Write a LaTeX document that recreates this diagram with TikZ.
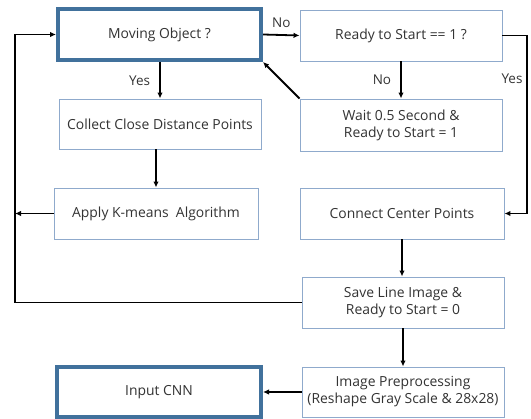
\documentclass[tikz,border=0pt]{standalone}
\usepackage{fontspec}
\setmainfont{Open Sans}
\usetikzlibrary{arrows.meta,calc}
\definecolor{boxblue}{HTML}{8FAACC}
\definecolor{darkblue}{HTML}{41719C}
\definecolor{txt}{HTML}{333333}
\tikzset{
  box/.style={draw=boxblue, line width=0.9pt, fill=white, minimum width=202pt, minimum height=51pt,
    text=txt, align=center, inner sep=2pt, font=\fontsize{13.9}{17}\selectfont},
  thickbox/.style={box, draw=darkblue, line width=4pt},
  conn/.style={line width=1.8pt, -{Latex[length=6pt,width=5.5pt]}},
  lbl/.style={text=txt, font=\fontsize{13.5}{15}\selectfont, inner sep=0pt}
}
\begin{document}
\begin{tikzpicture}[x=1pt,y=-1pt]
\useasboundingbox (0,0) rectangle (531,419);
\node[thickbox, minimum width=203pt] (mov) at (159.5,34.5) {Moving Object ?};
\node[box] (rdy) at (401,35.5) {Ready to Start == 1 ?};
\node[box, minimum height=52pt] (wait) at (401,125) {Wait 0.5 Second \&\\Ready to Start = 1};
\node[box, minimum height=50pt] (col) at (160,124) {Collect Close Distance Points};
\node[box, minimum width=204pt] (app) at (156,213.5) {Apply K-means\ \ Algorithm};
\node[box, minimum width=204pt] (con) at (402,213.5) {Connect Center Points};
\node[box] (save) at (403,302.5) {Save Line Image \&\\Ready to Start = 0};
\node[box, minimum height=50pt] (img) at (403,392) {Image Preprocessing\\(Reshape Gray Scale \& 28x28)};
\node[thickbox, minimum width=204pt, minimum height=50pt] (cnn) at (159,392) {Input CNN};
\coordinate (lb) at (15,302.5);
\coordinate (lt) at (15,34.5);
\coordinate (rt) at (527,35.5);
\draw[conn] (mov.east) -- (rdy.west) node[lbl, midway, above=6pt] (l1) {No};
\draw[conn] (rdy.south) -- (wait.north) node[lbl, midway, left=9pt] (l2) {No};
\draw[conn] (rdy.east) -- (rt) -- (con.east -| rt) -- (con.east);
\node[lbl] (l3) at (512,79) {Yes};
\draw[conn] (wait.north west) -- (mov.south east);
\draw[conn] (mov.south -| col.north) -- (col.north) node[lbl, midway, left=9pt] (l4) {Yes};
\draw[conn] (col.south -| app.north) -- (app.north);
\draw[conn] (app.west) -- (app.west -| lb);
\draw[conn] (save.west) -- (lb) -- (lt) -- (mov.west);
\draw[conn] (con.south) -- (save.north -| con.south);
\draw[conn] (save.south) -- (img.north);
\draw[conn] (img.west) -- (cnn.east);
\end{tikzpicture}
\end{document}
